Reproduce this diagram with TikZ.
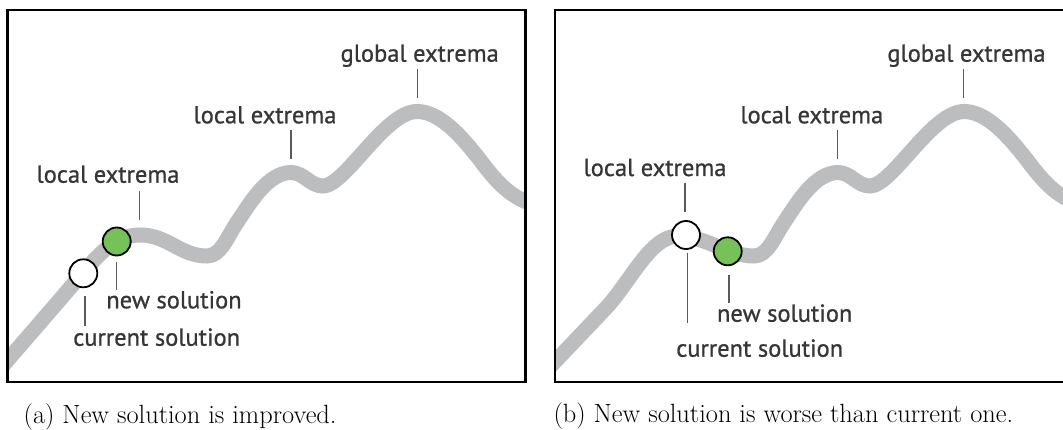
\documentclass[tikz,border=0pt]{standalone}
\usepackage{fontspec}
\newfontfamily\labfont{PT Sans}[FakeBold=0.8]
\definecolor{curvegray}{HTML}{BCBDBF}
\definecolor{solgreen}{HTML}{77C159}
\definecolor{labgray}{HTML}{363636}
\definecolor{tickgray}{HTML}{5A5A5A}
\begin{document}
\begin{tikzpicture}[x=1pt,y=-1pt,
  curve/.style={draw=curvegray,line width=15pt},
  panel/.style={draw=black,line width=2.5pt},
  sol/.style={circle,draw=black,line width=1.8pt,minimum size=28pt,inner sep=0pt},
  cursol/.style={sol,fill=white},
  newsol/.style={sol,fill=solgreen},
  lab/.style={font=\labfont\fontsize{24.5}{27}\selectfont,text=labgray,inner sep=0pt,anchor=base},
  tick/.style={draw=tickgray,line width=1.3pt},
  captxt/.style={font=\rmfamily\fontsize{26.4}{30}\selectfont,inner sep=0pt,anchor=base west}]
\useasboundingbox (0,0) rectangle (1063,430);
\clip (0,0) rectangle (1063,430);
\fill[white] (0,0) rectangle (1063,430);
% ---------- panel (a)
\begin{scope}
\clip (7.5,10) rectangle (525.5,382);
\draw[curve] (0,369) -- (70,288)
  .. controls (95,259) and (112,235) .. (140,235)
  .. controls (168,235) and (180,256) .. (207,256)
  .. controls (221,256) and (227,237) .. (238,221)
  .. controls (250,203) and (268,172.5) .. (291,172.5)
  .. controls (304,172.5) and (310,186) .. (323,186)
  .. controls (345,186) and (385,111.5) .. (417,111.5)
  .. controls (440,111.5) and (462,137) .. (480,160)
  .. controls (495,180) and (510,198) .. (535,205);
\end{scope}
\draw[panel] (7.5,10) rectangle (525.5,382);
\node[cursol] (ca) at (83.3,273.3) {};
\node[newsol] (na) at (116.7,241.5) {};
\node[lab] (ga) at (419.7,61.7) {global extrema};
\node[lab] (l2a) at (265,123.3) {local extrema};
\node[lab] (l1a) at (108,182.7) {local extrema};
\node[lab] (nla) at (174,308.3) {new solution};
\node[lab] (cla) at (156.7,345.7) {current solution};
\coordinate (ga1) at (417.3,69); \coordinate (ga2) at (417.3,98.5);
\coordinate (l2a1) at (291,130); \coordinate (l2a2) at (291,159.5);
\coordinate (l1a1) at (139.3,191.5); \coordinate (l1a2) at (139.3,220.5);
\coordinate (na1) at (116.7,262); \coordinate (na2) at (116.7,290);
\coordinate (ca1) at (85,296.5); \coordinate (ca2) at (85,326.5);
\draw[tick] (ga1) -- (ga2);
\draw[tick] (l2a1) -- (l2a2);
\draw[tick] (l1a1) -- (l1a2);
\draw[tick] (na1) -- (na2);
\draw[tick] (ca1) -- (ca2);
\node[captxt] (capa) at (23.5,423.3) {(a) New solution is improved.};
% ---------- panel (b)
\begin{scope}
\clip (555,10) rectangle (1072.5,382);
\draw[curve] (547,370) -- (605,309)
  .. controls (630,283) and (650,236) .. (678,236)
  .. controls (706,236) and (727,256) .. (754,256)
  .. controls (768,256) and (774,237) .. (785,221)
  .. controls (797,203) and (815,172.5) .. (838,172.5)
  .. controls (851,172.5) and (857,186) .. (870,186)
  .. controls (892,186) and (932,111.5) .. (964,111.5)
  .. controls (987,111.5) and (1009,137) .. (1027,160)
  .. controls (1042,180) and (1057,198) .. (1082,205);
\end{scope}
\draw[panel] (555,10) rectangle (1072.5,382);
\node[cursol] (cb) at (686,235) {};
\node[newsol] (nb) at (727.7,251.3) {};
\node[lab] (gb) at (966.5,61.7) {global extrema};
\node[lab] (l2b) at (811.8,123.3) {local extrema};
\node[lab] (l1b) at (655,176) {local extrema};
\node[lab] (nlb) at (784.7,321.7) {new solution};
\node[lab] (clb) at (759.7,356.7) {current solution};
\coordinate (gb1) at (963.5,69); \coordinate (gb2) at (963.5,98.5);
\coordinate (l2b1) at (837.8,130); \coordinate (l2b2) at (837.8,159.5);
\coordinate (l1b1) at (685,183.5); \coordinate (l1b2) at (685,212.5);
\coordinate (nb1) at (729,275); \coordinate (nb2) at (729,303.5);
\coordinate (cb1) at (687.7,253); \coordinate (cb2) at (687.7,323.5);
\draw[tick] (gb1) -- (gb2);
\draw[tick] (l2b1) -- (l2b2);
\draw[tick] (l1b1) -- (l1b2);
\draw[tick] (nb1) -- (nb2);
\draw[tick] (cb1) -- (cb2);
\node[captxt] (capb) at (553.3,422.7) {(b) New solution is worse than current one.};
\end{tikzpicture}
\end{document}
